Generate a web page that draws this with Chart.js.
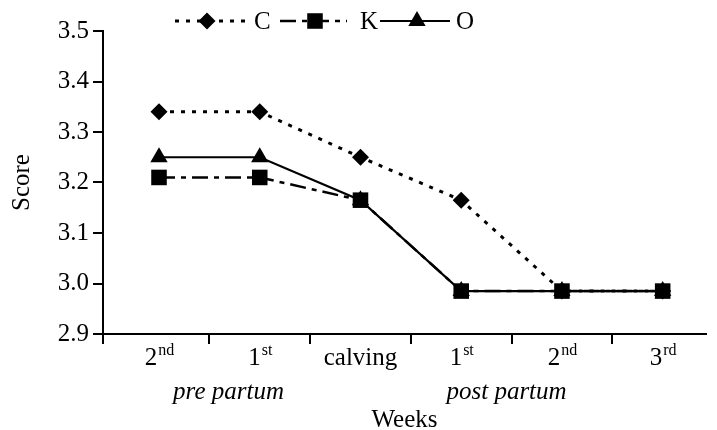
<!DOCTYPE html>
<html><head><meta charset="utf-8">
<script src="https://cdn.jsdelivr.net/npm/chart.js@4/dist/chart.umd.min.js"></script>
<style>html,body{margin:0;padding:0;background:#fff}#wrap{width:717px;height:430px;position:relative}</style>
</head><body><div id="wrap"><canvas id="c"></canvas></div>
<script>
// ---- data ----
const weekLabels = ['2', '1', 'calving', '1', '2', '3'];
const weekSuffixes = ['nd', 'st', '', 'st', 'nd', 'rd'];
const periodLabels = ['pre partum', 'post partum'];
const seriesNames = ['C', 'K', 'O'];
const seriesC = [3.34, 3.34, 3.25, 3.165, 2.985, 2.985];
const seriesK = [3.21, 3.21, 3.165, 2.985, 2.985, 2.985];
const seriesO = [3.25, 3.25, 3.165, 2.985, 2.985, 2.985];
const yMin = 2.9, yMax = 3.5, yStep = 0.1;
const xTitle = 'Weeks', yTitle = 'Score';

const FONT = '"Liberation Serif", "DejaVu Serif", serif';
const FS = 25;
const SUP = 16;
const toPts = arr => arr.map((v, i) => ({x: i, y: v}));

const styles = [
  {borderDash: [4, 7], borderWidth: 3, pointStyle: 'rectRot', pointRadius: 8.5},
  {borderDash: [16, 6, 5, 6], borderWidth: 2.5, pointStyle: 'rect', pointRadius: 11},
  {borderDash: [], borderWidth: 2.2, pointStyle: 'triangle', pointRadius: 10}
];
const seriesData = [seriesC, seriesK, seriesO];

const datasets = seriesNames.map((n, k) => ({
  label: n,
  data: toPts(seriesData[k]),
  borderColor: '#000',
  backgroundColor: '#000',
  pointBackgroundColor: '#000',
  pointBorderColor: '#000',
  pointBorderWidth: 0,
  borderWidth: styles[k].borderWidth,
  borderDash: styles[k].borderDash,
  pointStyle: styles[k].pointStyle,
  pointRadius: styles[k].pointRadius,
  pointHoverRadius: styles[k].pointRadius,
  tension: 0,
  clip: false
}));

function marker(ctx, style, x, y, r) {
  ctx.beginPath();
  if (style === 'rectRot') {
    ctx.moveTo(x - r, y); ctx.lineTo(x, y - r); ctx.lineTo(x + r, y); ctx.lineTo(x, y + r);
  } else if (style === 'rect') {
    const s = r * Math.SQRT1_2;
    ctx.rect(x - s, y - s, 2 * s, 2 * s);
  } else {
    const w = r * Math.sqrt(3) / 2;
    ctx.moveTo(x - w, y + r / 2); ctx.lineTo(x + w, y + r / 2); ctx.lineTo(x, y - r);
  }
  ctx.closePath();
  ctx.fill();
}

const overlay = {
  id: 'overlay',
  afterDraw(chart) {
    const ctx = chart.ctx;
    const xs = chart.scales.x, ys = chart.scales.y;
    const base = ys.getPixelForValue(yMin);
    ctx.save();
    ctx.strokeStyle = '#000'; ctx.fillStyle = '#000'; ctx.lineWidth = 2;
    // x tick marks between categories
    const tickXs = [chart.chartArea.left];
    for (let i = 0; i < weekLabels.length - 1; i++) tickXs.push(Math.round(xs.getPixelForValue(i + 0.5)));
    ctx.beginPath();
    tickXs.forEach(tx => { ctx.moveTo(tx, base); ctx.lineTo(tx, base + 10); });
    ctx.stroke();
    // category labels with superscripts
    ctx.textBaseline = 'alphabetic';
    weekLabels.forEach((lab, i) => {
      const cx = xs.getPixelForValue(i);
      ctx.font = FS + 'px ' + FONT;
      const w1 = ctx.measureText(lab).width;
      ctx.font = SUP + 'px ' + FONT;
      const w2 = ctx.measureText(weekSuffixes[i]).width;
      const sx = cx - (w1 + w2) / 2;
      ctx.font = FS + 'px ' + FONT;
      ctx.textAlign = 'left';
      ctx.fillText(lab, sx, base + 31);
      if (weekSuffixes[i]) {
        ctx.font = SUP + 'px ' + FONT;
        ctx.fillText(weekSuffixes[i], sx + w1 + 1, base + 21);
      }
    });
    // period labels
    ctx.font = 'italic ' + FS + 'px ' + FONT;
    ctx.textAlign = 'center';
    const periodPos = [0.69, 3.45];
    periodLabels.forEach((p, i) => ctx.fillText(p, xs.getPixelForValue(periodPos[i]), base + 65));
    // legend
    const legendPos = [[175, 247, 207, 254], [280, 347, 315, 360], [380, 450, 417, 456]];
    const ly = 21;
    chart.data.datasets.forEach((ds, k) => {
      const [a, b, m, t] = legendPos[k];
      ctx.lineWidth = ds.borderWidth;
      ctx.setLineDash(ds.borderDash);
      ctx.beginPath(); ctx.moveTo(a, ly); ctx.lineTo(b, ly); ctx.stroke();
      ctx.setLineDash([]);
      marker(ctx, ds.pointStyle, m, ly, ds.pointRadius);
      ctx.font = FS + 'px ' + FONT;
      ctx.textAlign = 'left';
      ctx.textBaseline = 'middle';
      ctx.fillText(ds.label, t, ly + 1);
    });
    ctx.restore();
  }
};

new Chart(document.getElementById('c'), {
  type: 'line',
  data: {datasets},
  options: {
    responsive: true,
    maintainAspectRatio: false,
    animation: false,
    layout: {padding: {top: 31, right: 0, left: 0, bottom: 0}},
    plugins: {legend: {display: false}, tooltip: {enabled: false}},
    scales: {
      x: {
        type: 'linear',
        min: -0.556, max: 5.43,
        grid: {display: false},
        border: {display: true, color: '#000', width: 2},
        ticks: {display: false},
        title: {display: true, text: xTitle, color: '#000', font: {family: FONT, size: FS, lineHeight: 0.8}, padding: {top: 0, bottom: 0}},
        afterFit(s) { s.height = 96; }
      },
      y: {
        min: yMin, max: yMax,
        ticks: {stepSize: yStep, color: '#000', font: {family: FONT, size: FS}, padding: 4,
          callback: v => Number(v).toFixed(1)},
        grid: {drawOnChartArea: false, drawTicks: true, tickLength: 10, color: '#000', lineWidth: 2},
        border: {display: true, color: '#000', width: 2},
        title: {display: true, text: yTitle, color: '#000', font: {family: FONT, size: FS, lineHeight: 1}, padding: {top: 10, bottom: 0}},
        afterFit(s) { s.width = 103; }
      }
    }
  },
  plugins: [overlay]
});
</script>
</body></html>
